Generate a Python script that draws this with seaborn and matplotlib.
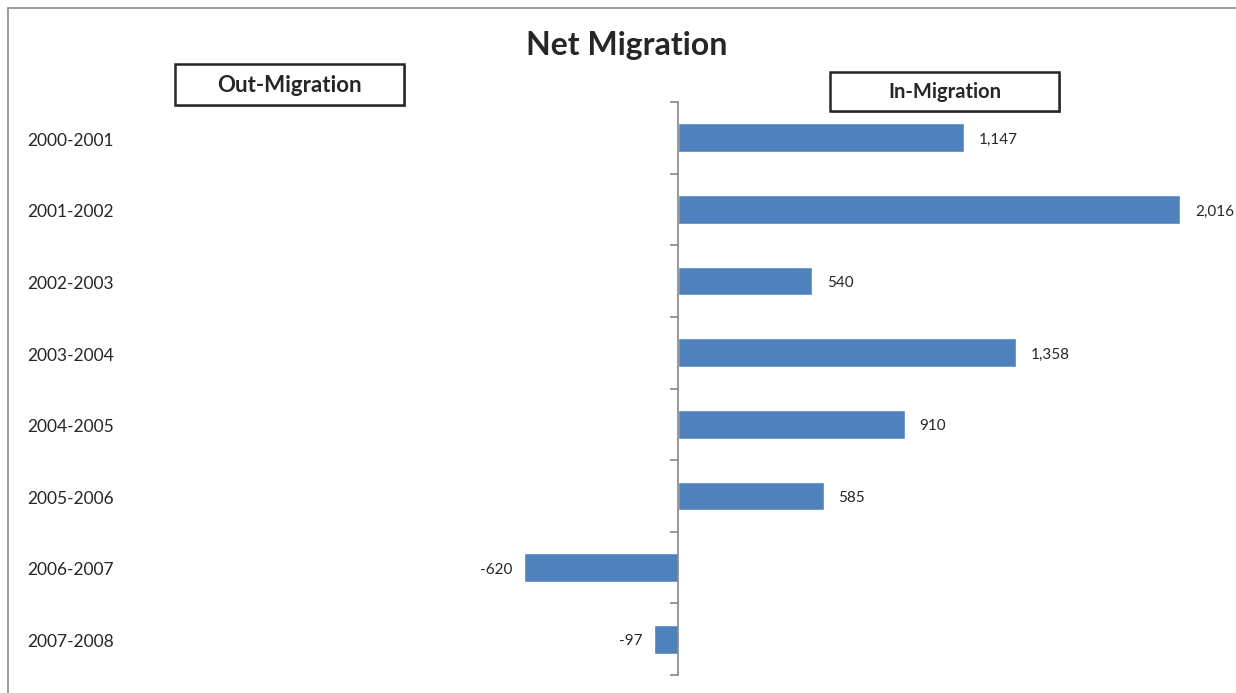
import matplotlib
matplotlib.use('Agg')

import matplotlib.pyplot as plt
import matplotlib.transforms as mtransforms
from matplotlib.patches import Rectangle
import seaborn as sns
import numpy as np

sns.set_style("white")
plt.rcParams['font.family'] = ['Lato', 'DejaVu Sans']

periods = ["2000-2001", "2001-2002", "2002-2003", "2003-2004",
           "2004-2005", "2005-2006", "2006-2007", "2007-2008"]
net_migration = [1147, 2016, 540, 1358, 910, 585, -620, -97]

W, H = 1236, 693
fig = plt.figure(figsize=(W / 100, H / 100), dpi=100)

# plot area: zero line at x=678 px, 0.249 px per person
px_per_unit = 0.249
left_px, right_px, zero_px = 20, 1230, 678
top_px, bot_px = 102, 675
ax = fig.add_axes([left_px / W, 1 - bot_px / H,
                   (right_px - left_px) / W, (bot_px - top_px) / H])

sns.barplot(x=net_migration, y=periods, orient='h', color='#4F81BD',
            width=0.4, ax=ax, saturation=1)

ax.set_xlim((left_px - zero_px) / px_per_unit, (right_px - zero_px) / px_per_unit)
ax.set_ylim(len(periods) - 0.5, -0.5)

for s in ['top', 'right', 'bottom']:
    ax.spines[s].set_visible(False)
ax.spines['left'].set_position(('data', 0))
ax.spines['left'].set_color('#868686')
ax.spines['left'].set_linewidth(1.2)
ax.set_xticks([])
ax.set_yticks(range(len(periods)))
ax.set_yticklabels([])
ax.tick_params(axis='y', which='major', length=0)
ax.set_yticks(np.arange(-0.5, len(periods), 1), minor=True)
ax.tick_params(axis='y', which='minor', left=True, length=6, direction='out',
               color='#868686', width=1.2)
ax.set_xlabel('')
ax.set_ylabel('')

# value labels
for i, v in enumerate(net_migration):
    if v >= 0:
        ax.text(v + 60, i + 0.03, '{:,}'.format(v), ha='left', va='center', fontsize=11)
    else:
        ax.text(v - 45, i + 0.03, '{:,}'.format(v), ha='right', va='center', fontsize=11)

# category labels at the far left
trans = mtransforms.blended_transform_factory(fig.transFigure, ax.transData)
for i, p in enumerate(periods):
    ax.text(27 / W, i + 0.04, p, transform=trans, ha='left', va='center', fontsize=12.5)

# title
fig.text(627 / W, 1 - 46 / H, 'Net Migration', ha='center', va='center',
         fontsize=23, fontweight='bold')


def header_box(x0, y0, x1, y1, label, size):
    # shadow
    fig.add_artist(Rectangle((x0 / W + 2 / W, 1 - y1 / H - 2 / H),
                             (x1 - x0) / W, (y1 - y0) / H,
                             transform=fig.transFigure, fc='#9a9a9a', ec='none'))
    fig.add_artist(Rectangle((x0 / W, 1 - y1 / H), (x1 - x0) / W, (y1 - y0) / H,
                             transform=fig.transFigure, fc='white',
                             ec='#262626', lw=1.8))
    fig.text((x0 + x1) / 2 / W, 1 - (y0 + y1 + 2) / 2 / H, label, ha='center',
             va='center', fontsize=size, fontweight='bold')


header_box(175, 64, 404, 105, 'Out-Migration', 16)
header_box(830, 72, 1059, 111, 'In-Migration', 14.5)

# chart area border (left and top)
fig.add_artist(plt.Line2D([8 / W, 8 / W], [0, 1 - 8 / H], transform=fig.transFigure,
                          color='#8c8c8c', lw=1.2))
fig.add_artist(plt.Line2D([8 / W, 1], [1 - 8 / H, 1 - 8 / H], transform=fig.transFigure,
                          color='#8c8c8c', lw=1.2))

plt.savefig('out.png', dpi=100)
